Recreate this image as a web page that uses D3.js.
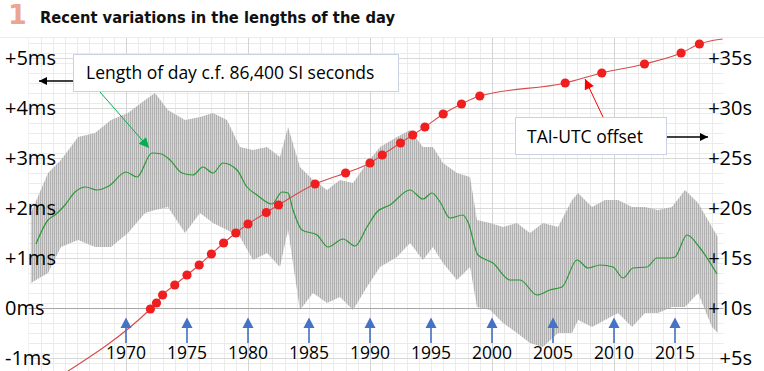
<!DOCTYPE html>
<html>
<head>
<meta charset="utf-8">
<script src="https://cdn.jsdelivr.net/npm/d3@7"></script>
<style>
  html, body { margin: 0; padding: 0; background: #fff; }
  svg { display: block; }
</style>
</head>
<body>
<div id="chart"></div>
<script>
// length-of-day envelope (ms above 86,400 s)
const lodYears = [1962.2, 1963.61, 1964.67, 1966.07, 1967.46, 1968.77, 1970.16, 1971.56, 1972.38, 1973.44,
  1974.84, 1976.07, 1977.13, 1978.28, 1979.34, 1980.41, 1981.56, 1982.62, 1983.28, 1984.26,
  1985.33, 1986.48, 1987.54, 1988.61, 1989.75, 1990.82, 1992.21, 1993.28, 1994.34, 1995.16,
  1995.98, 1997.13, 1998.2, 1998.77, 1999.84, 2000.9, 2002.05, 2003.11, 2004.18, 2005.41,
  2006.56, 2007.05, 2008.2, 2009.26, 2010.33, 2011.48, 2012.54, 2013.61, 2014.75, 2015.82,
  2016.89, 2018.03, 2018.52];
const lodHigh = [1.90, 2.70, 2.96, 3.42, 3.50, 3.76, 3.90, 4.16, 4.30, 3.96,
  3.76, 3.82, 3.90, 3.76, 3.22, 3.16, 3.22, 3.02, 3.62, 2.82,
  2.56, 2.36, 2.56, 2.50, 2.90, 3.22, 3.42, 3.56, 3.22, 3.22,
  2.90, 2.70, 2.62, 1.76, 1.70, 1.62, 1.70, 1.50, 1.70, 1.62,
  2.16, 2.30, 2.02, 2.16, 2.16, 2.02, 2.02, 1.96, 2.02, 2.36,
  2.10, 1.62, 1.42];
const lodLow = [0.50, 0.70, 1.22, 1.36, 1.22, 1.22, 1.50, 1.90, 1.96, 2.02,
  1.50, 1.90, 1.70, 1.56, 1.42, 0.96, 1.10, 0.82, 1.56, -0.04,
  0.30, 0.10, 0.22, -0.04, 0.42, 0.82, 1.02, 1.30, 0.96, 1.22,
  0.90, 0.56, 0.82, 0.02, -0.04, -0.30, -0.50, -0.70, -0.78, -0.50,
  -0.50, -0.24, -0.38, -0.24, -0.10, -0.38, -0.10, -0.10, 0.02, 0.02,
  0.30, -0.38, -0.50];

// smoothed length of day (green)
const smoothYears = [1962.62, 1963.61, 1964.18, 1965.0, 1965.82, 1966.7, 1967.62, 1968.6, 1970.0, 1970.9,
  1972.13, 1972.9, 1973.61, 1974.59, 1975.49, 1976.31, 1977.13, 1977.95, 1979.1, 1979.92,
  1980.74, 1981.97, 1982.79, 1983.28, 1983.69, 1984.43, 1985.66, 1986.56, 1987.79, 1988.77,
  1989.75, 1990.57, 1991.64, 1993.28, 1994.34, 1995.08, 1995.74, 1996.56, 1997.62, 1998.03,
  1998.85, 2000.08, 2001.48, 2002.3, 2003.69, 2004.75, 2005.74, 2006.97, 2007.87, 2008.85,
  2009.92, 2010.74, 2011.56, 2012.7, 2013.52, 2014.59, 2015.0, 2015.98, 2017.05, 2018.44];
const smoothMs = [1.28, 1.76, 1.86, 2.06, 2.32, 2.42, 2.36, 2.44, 2.72, 2.62,
  3.10, 3.08, 2.96, 2.70, 2.66, 2.82, 2.70, 2.90, 2.76, 2.42,
  2.26, 2.08, 2.32, 2.30, 1.96, 1.56, 1.46, 1.22, 1.38, 1.24,
  1.62, 1.92, 2.06, 2.36, 2.18, 2.30, 2.12, 1.80, 1.86, 1.72,
  1.06, 0.90, 0.56, 0.56, 0.26, 0.36, 0.42, 0.96, 0.80, 0.86,
  0.82, 0.60, 0.80, 0.82, 1.00, 1.00, 1.02, 1.46, 1.20, 0.68];

// TAI-UTC offset (seconds), dots
const leapYears = [1972.0, 1972.5, 1973.0, 1974.0, 1975.0, 1976.0, 1977.0, 1978.0, 1979.0, 1980.0,
  1981.5, 1982.5, 1985.5, 1988.0, 1990.0, 1991.0, 1992.5, 1993.5, 1994.5, 1996.0,
  1997.5, 1999.0, 2006.0, 2009.0, 2012.5, 2015.5, 2017.0];
const leapOffset = [9.9, 10.5, 11.3, 12.3, 13.3, 14.3, 15.4, 16.5, 17.5, 18.4,
  19.55, 20.3, 22.4, 23.5, 24.5, 25.3, 26.5, 27.3, 28.1, 29.4,
  30.4, 31.2, 32.5, 33.5, 34.4, 35.5, 36.4];
// ends of the offset line beyond the dots
const taiEndYears = [1965.0, 2018.9];
const taiEndOffset = [3.5, 36.9];

// axes
const msTicks = [-1, 0, 1, 2, 3, 4, 5];
const secTicks = [5, 10, 15, 20, 25, 30, 35];
const markYears = [1970, 1975, 1980, 1985, 1990, 1995, 2000, 2005, 2010, 2015];

const width = 764, height = 371;
const plotLeft = 28.4, plotRight = 723.8, plotTop = 37.5, plotBottom = 371;

const x = d3.scaleLinear().domain([1962, 2019]).range([plotLeft, plotRight]);
const yMs = d3.scaleLinear().domain([-1, 5]).range([358, 58]);
const ySec = d3.scaleLinear().domain([5, 35]).range([358, 58]);

const svg = d3.select("#chart").append("svg")
  .attr("width", width).attr("height", height)
  .attr("viewBox", `0 0 ${width} ${height}`);

const defs = svg.append("defs");
defs.append("clipPath").attr("id", "plot")
  .append("rect").attr("x", plotLeft).attr("y", plotTop)
  .attr("width", plotRight - plotLeft).attr("height", plotBottom - plotTop);

// fine vertical hatching to mimic the dense daily spikes
const pat = defs.append("pattern").attr("id", "spikes")
  .attr("patternUnits", "userSpaceOnUse").attr("width", 2).attr("height", 5);
pat.append("rect").attr("width", 1).attr("height", 5).attr("fill", "#a4a4a4").attr("opacity", 0.85);
pat.append("rect").attr("x", 1).attr("width", 1).attr("height", 5).attr("fill", "#bdbdbd").attr("opacity", 0.6);

function marker(id, color, w, h) {
  defs.append("marker").attr("id", id)
    .attr("viewBox", "0 0 10 10").attr("refX", 10).attr("refY", 5)
    .attr("markerUnits", "userSpaceOnUse")
    .attr("markerWidth", w).attr("markerHeight", h)
    .attr("orient", "auto")
    .append("path").attr("d", "M0,0L10,5L0,10Z").attr("fill", color);
}
marker("headBlack", "#000", 10, 8);
marker("headGreen", "#00b050", 12, 10);
marker("headRed", "#ff0000", 12, 10);

// title
svg.append("text").attr("x", 8).attr("y", 24)
  .attr("font-family", "DejaVu Sans").attr("font-weight", "bold")
  .attr("font-size", 27).attr("fill", "#eaa691").text("1");
svg.append("text").attr("x", 40).attr("y", 23)
  .attr("font-family", "DejaVu Sans").attr("font-weight", "bold")
  .attr("font-size", 15.5).attr("fill", "#111")
  .attr("textLength", 355).attr("lengthAdjust", "spacingAndGlyphs")
  .text("Recent variations in the lengths of the day");

// grid
const grid = svg.append("g").attr("clip-path", "url(#plot)");
const minorMs = d3.range(-13, 56, 2).map(v => v / 10);
grid.selectAll(".hmin").data(minorMs).enter().append("line")
  .attr("x1", plotLeft).attr("x2", plotRight)
  .attr("y1", d => Math.round(yMs(d)) + 0.5).attr("y2", d => Math.round(yMs(d)) + 0.5)
  .attr("stroke", "#ebebeb");
const years = d3.range(1962, 2019);
grid.selectAll(".vmin").data(years).enter().append("line")
  .attr("x1", d => Math.round(x(d)) + 0.5).attr("x2", d => Math.round(x(d)) + 0.5)
  .attr("y1", plotTop).attr("y2", plotBottom)
  .attr("stroke", d => d % 10 === 0 ? "#d4d4d4" : "#ebebeb");
grid.selectAll(".hmaj").data(msTicks).enter().append("line")
  .attr("x1", plotLeft).attr("x2", plotRight)
  .attr("y1", d => Math.round(yMs(d)) + 0.5).attr("y2", d => Math.round(yMs(d)) + 0.5)
  .attr("stroke", d => d === 0 ? "#a6a6a6" : "#d9d9d9");
svg.append("line").attr("x1", 0).attr("x2", width).attr("y1", plotTop).attr("y2", plotTop)
  .attr("stroke", "#ececec");

// data layers
const plot = svg.append("g").attr("clip-path", "url(#plot)");

const lod = lodYears.map((yr, i) => ({ yr, hi: lodHigh[i], lo: lodLow[i] }));
plot.append("path").datum(lod)
  .attr("fill", "url(#spikes)")
  .attr("d", d3.area().x(d => x(d.yr)).y0(d => yMs(d.lo)).y1(d => yMs(d.hi)));

const smooth = smoothYears.map((yr, i) => ({ yr, v: smoothMs[i] }));
plot.append("path").datum(smooth)
  .attr("fill", "none").attr("stroke", "#2a9a35").attr("stroke-width", 1.2)
  .attr("d", d3.line().x(d => x(d.yr)).y(d => yMs(d.v)).curve(d3.curveMonotoneX));

const leaps = leapYears.map((yr, i) => ({ yr, v: leapOffset[i] }));
const taiLine = [{ yr: taiEndYears[0], v: taiEndOffset[0] }, ...leaps,
  { yr: taiEndYears[1], v: taiEndOffset[1] }];
plot.append("path").datum(taiLine)
  .attr("fill", "none").attr("stroke", "#d94a4a").attr("stroke-width", 1.1)
  .attr("d", d3.line().x(d => x(d.yr)).y(d => ySec(d.v)).curve(d3.curveMonotoneX));

plot.selectAll(".dot").data(leaps).enter().append("circle")
  .attr("cx", d => x(d.yr)).attr("cy", d => ySec(d.v)).attr("r", 4.6)
  .attr("fill", "#f01e1e");

// axes labels
const labelFont = "'Open Sans', 'Liberation Sans', sans-serif";
const leftAxis = svg.append("g").attr("transform", "translate(5,0)")
  .call(d3.axisRight(yMs).tickValues(msTicks).tickSize(0).tickPadding(0)
    .tickFormat(d => (d > 0 ? "+" : "") + d + "ms"));
const rightAxis = svg.append("g").attr("transform", "translate(752,0)")
  .call(d3.axisLeft(ySec).tickValues(secTicks).tickSize(0).tickPadding(0)
    .tickFormat(d => "+" + d + "s"));
[leftAxis, rightAxis].forEach(a => {
  a.select(".domain").remove();
  a.selectAll("text").attr("font-family", labelFont).attr("font-size", 20).attr("fill", "#000");
});

// year markers
const marks = svg.append("g");
marks.selectAll(".shaft").data(markYears).enter().append("line")
  .attr("x1", d => x(d)).attr("x2", d => x(d)).attr("y1", 326).attr("y2", 343)
  .attr("stroke", "#4472c4").attr("stroke-width", 1.6);
marks.selectAll(".head").data(markYears).enter().append("path")
  .attr("d", d => `M${x(d) - 5.5},328L${x(d)},317.5L${x(d) + 5.5},328Z`)
  .attr("fill", "#4472c4");
marks.selectAll(".yl").data(markYears).enter().append("text")
  .attr("x", d => x(d)).attr("y", 359).attr("text-anchor", "middle")
  .attr("font-family", labelFont).attr("font-size", 17.5).attr("fill", "#000")
  .text(d => d);

// annotations
svg.append("line").attr("x1", 73).attr("y1", 81).attr("x2", 39).attr("y2", 81)
  .attr("stroke", "#000").attr("stroke-width", 1.5).attr("marker-end", "url(#headBlack)");
svg.append("rect").attr("x", 73.5).attr("y", 54.5).attr("width", 325).attr("height", 37)
  .attr("fill", "#fff").attr("stroke", "#c9d2e3");
svg.append("text").attr("x", 86).attr("y", 79)
  .attr("font-family", labelFont).attr("font-size", 17.5).attr("fill", "#000")
  .text("Length of day c.f. 86,400 SI seconds");
svg.append("line").attr("x1", 100).attr("y1", 92).attr("x2", 149).attr("y2", 148)
  .attr("stroke", "#00b050").attr("stroke-width", 1).attr("marker-end", "url(#headGreen)");

svg.append("line").attr("x1", 667).attr("y1", 137).attr("x2", 708).attr("y2", 137)
  .attr("stroke", "#000").attr("stroke-width", 1.5).attr("marker-end", "url(#headBlack)");
svg.append("rect").attr("x", 515.5).attr("y", 117.5).attr("width", 151).attr("height", 37)
  .attr("fill", "#fff").attr("stroke", "#c9d2e3");
svg.append("text").attr("x", 527).attr("y", 143)
  .attr("font-family", labelFont).attr("font-size", 17.5).attr("fill", "#000")
  .text("TAI-UTC offset");
svg.append("line").attr("x1", 603).attr("y1", 117).attr("x2", 585).attr("y2", 79)
  .attr("stroke", "#ff0000").attr("stroke-width", 1).attr("marker-end", "url(#headRed)");
</script>
</body>
</html>
